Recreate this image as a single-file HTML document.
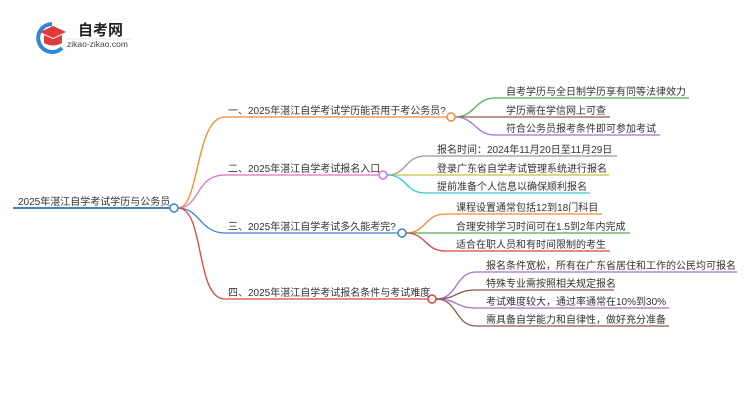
<!DOCTYPE html>
<html><head><meta charset="utf-8"><style>
html,body{margin:0;padding:0;background:#fff;width:750px;height:410px;overflow:hidden}
text{font-family:"Liberation Sans","Noto Sans CJK SC",sans-serif;font-size:10px;fill:#333}
</style></head><body>
<svg width="750" height="410" xmlns="http://www.w3.org/2000/svg">
<path d="M52 24 A14 14 0 1 0 62 48" fill="none" stroke="#2f86d8" stroke-width="4"/>
<polygon points="40,32 53,26 66,32 53,38" fill="#e03a3a"/>
<path d="M44 35 L44 43 Q53 48 62 43 L62 35 L53 39 Z" fill="#e03a3a"/>
<text x="78" y="35" style="font-size:15px;font-weight:bold;fill:#222">自考网</text>
<line x1="66" y1="39" x2="131" y2="39" stroke="#ccc" stroke-width="0.6"/>
<text x="67" y="47" style="font-size:8.5px;fill:#444">zikao-zikao.com</text>

<g fill="none" stroke-width="1.3">
<path d="M13 208 L170 208" stroke="#3a85c8" stroke-width="2"/>
<path d="M178 208 C200 208 195 117 225 117 L447 117" stroke="#f5892a"/>
<path d="M178 208 C200 208 195 175 225 175 L379 175" stroke="#e070c8"/>
<path d="M178 208 C200 208 200 233 225 233 L398 233" stroke="#3a85c8"/>
<path d="M178 208 C205 208 195 299 225 299 L428 299" stroke="#e04040"/>
<path d="M455 117 C475 117 475 98 495 98 L689 98" stroke="#4cb04c"/>
<path d="M455 117 L610 117" stroke="#8a5a4a"/>
<path d="M455 117 C475 117 475 135 495 135 L660 135" stroke="#a070d0"/>
<path d="M387 175 C407 175 405 156 425 156 L617 156" stroke="#999"/>
<path d="M387 175 L609 175" stroke="#c0c830"/>
<path d="M387 175 C407 175 405 193 425 193 L590 193" stroke="#30c8d8"/>
<path d="M406 233 C426 233 425 214 445 214 L602 214" stroke="#f5892a"/>
<path d="M406 233 L630 233" stroke="#4cb04c"/>
<path d="M406 233 C426 233 425 251 445 251 L610 251" stroke="#e04040"/>
<path d="M436 299 C458 299 455 272 476 272 L737 272" stroke="#a070d0"/>
<path d="M436 299 C458 299 455 290 476 290 L614 290" stroke="#8a5a4a"/>
<path d="M436 299 C458 299 455 308 476 308 L669 308" stroke="#a070d0"/>
<path d="M436 299 C458 299 455 326 476 326 L669 326" stroke="#8a5a4a"/>
</g>
<g fill="#fff" stroke-width="1.5">
<circle cx="174" cy="208" r="4" stroke="#3a85c8"/>
<circle cx="451" cy="117" r="4" stroke="#f5892a"/>
<circle cx="383" cy="175" r="4" stroke="#e070c8"/>
<circle cx="402" cy="233" r="4" stroke="#3a85c8"/>
<circle cx="432" cy="299" r="4" stroke="#e04040"/>
</g>
<text x="18" y="205" style="font-size:10px">2025年湛江自学考试学历与公务员</text>
<text x="228" y="114">一、2025年湛江自学考试学历能否用于考公务员?</text>
<text x="228" y="172">二、2025年湛江自学考试报名入口</text>
<text x="228" y="230">三、2025年湛江自学考试多久能考完?</text>
<text x="228" y="296">四、2025年湛江自学考试报名条件与考试难度</text>

<text x="506" y="95">自考学历与全日制学历享有同等法律效力</text>
<text x="506" y="114">学历需在学信网上可查</text>
<text x="506" y="132">符合公务员报考条件即可参加考试</text>
<text x="437" y="153">报名时间：2024年11月20日至11月29日</text>
<text x="437" y="172">登录广东省自学考试管理系统进行报名</text>
<text x="437" y="190">提前准备个人信息以确保顺利报名</text>
<text x="456" y="211">课程设置通常包括12到18门科目</text>
<text x="456" y="230">合理安排学习时间可在1.5到2年内完成</text>
<text x="456" y="248">适合在职人员和有时间限制的考生</text>
<text x="486" y="269">报名条件宽松，所有在广东省居住和工作的公民均可报名</text>
<text x="486" y="287">特殊专业需按照相关规定报名</text>
<text x="486" y="305">考试难度较大，通过率通常在10%到30%</text>
<text x="486" y="323">需具备自学能力和自律性，做好充分准备</text>
</svg>
</body></html>
